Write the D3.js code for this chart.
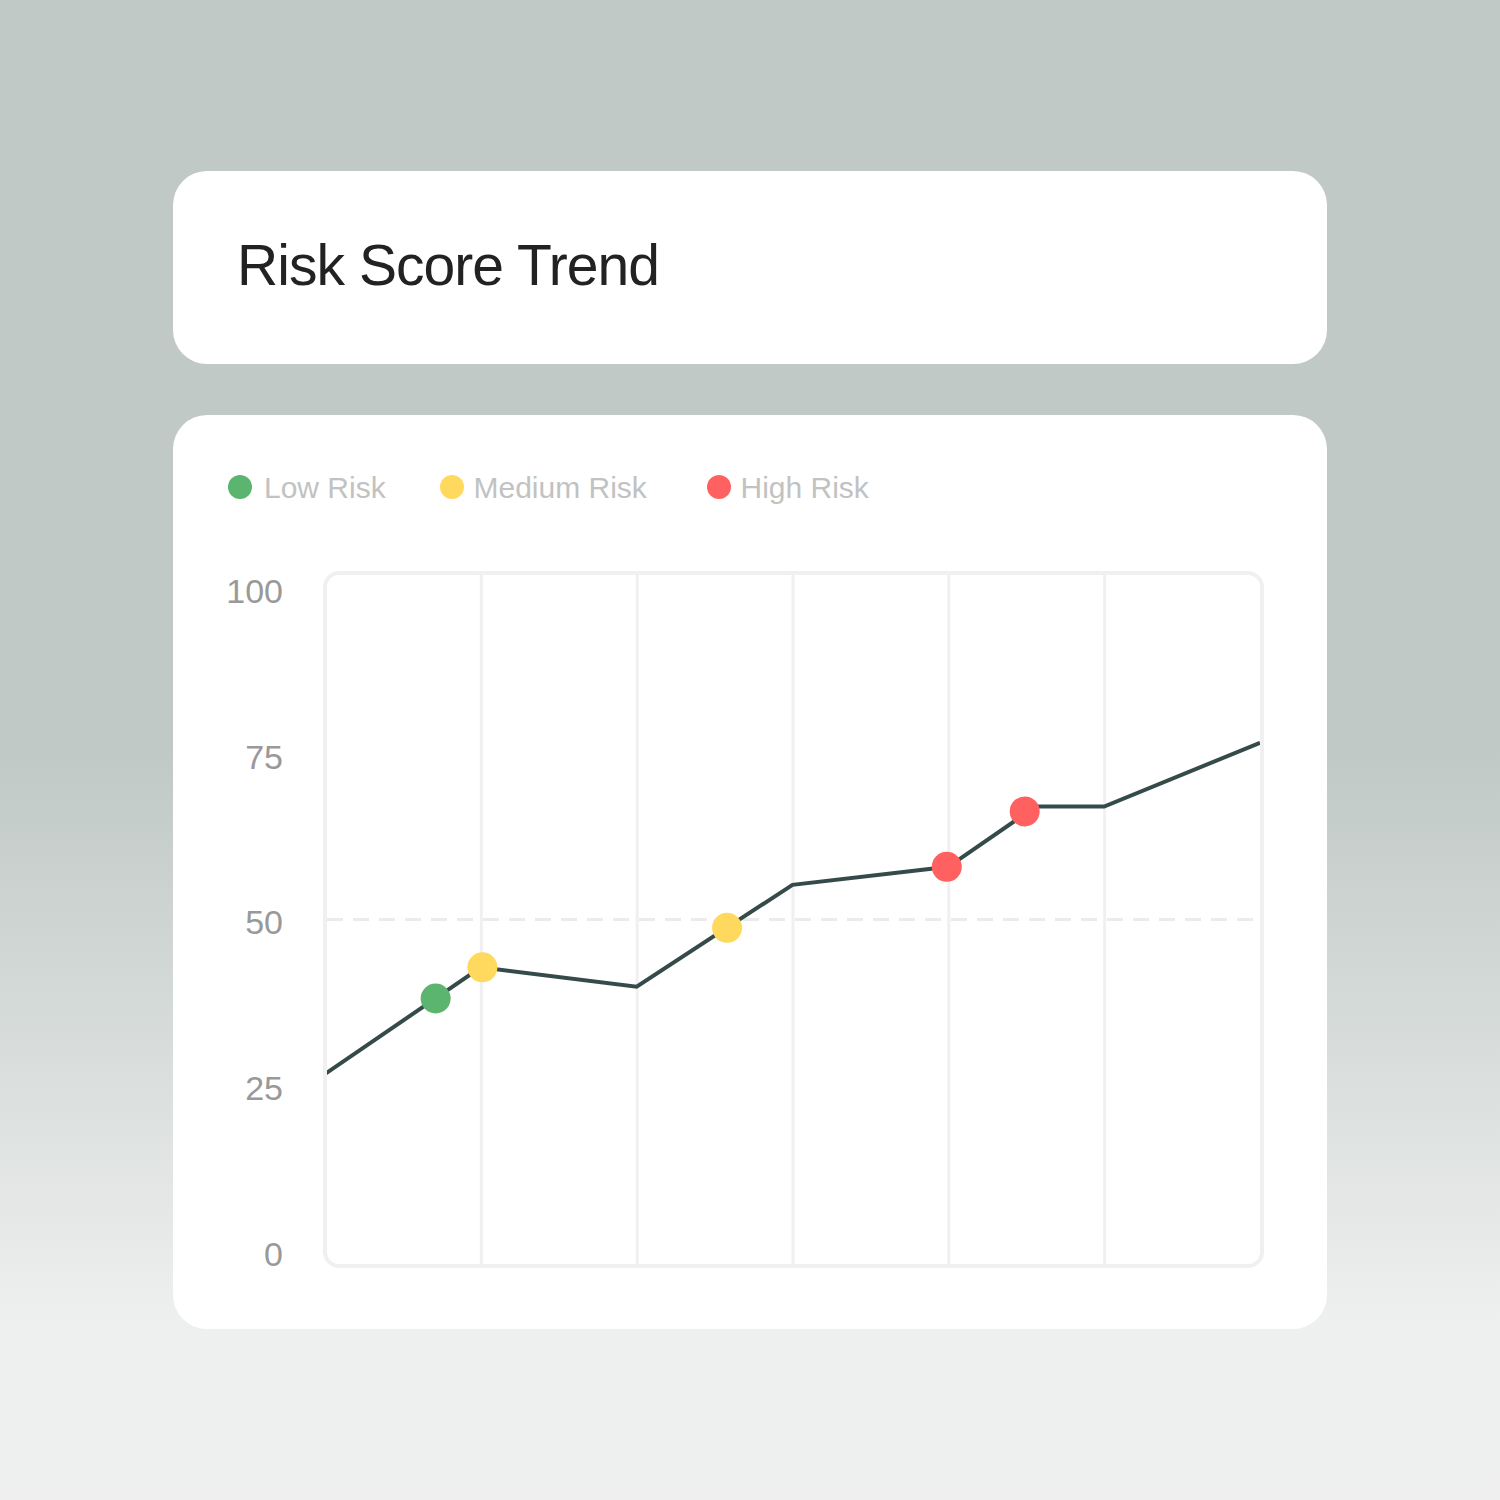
<!DOCTYPE html>
<html>
<head>
<meta charset="utf-8">
<script src="https://cdn.jsdelivr.net/npm/d3@7"></script>
<style>
  html, body { margin: 0; padding: 0; }
  body { width: 1500px; height: 1500px; overflow: hidden; }
  svg { display: block; }
</style>
</head>
<body>
<svg id="chart" width="1500" height="1500"></svg>
<script>
// ---- data ----
const titleText = "Risk Score Trend";
const lineX = [0, 1, 2, 3, 4, 4.56, 5, 6];
const lineY = [27.7, 43.1, 40.3, 55.0, 57.6, 66.3, 66.3, 75.5];
const markerX = [0.71, 1.01, 2.58, 3.99, 4.49];
const markerY = [38.6, 43.1, 48.8, 57.6, 65.6];
const markerLevel = ["low", "medium", "medium", "high", "high"];
const legendKeys = ["low", "medium", "high"];
const legendLabels = ["Low Risk", "Medium Risk", "High Risk"];
const yTicks = [0, 25, 50, 75, 100];
const xGridTicks = [1, 2, 3, 4, 5];
const threshold = [50];

(function () {
const colors = { low: "#5bb56e", medium: "#ffd95e", high: "#ff6161" };

const svg = d3.select("#chart");
const defs = svg.append("defs");

// background gradient
const grad = defs.append("linearGradient").attr("id", "bg").attr("x1", 0).attr("y1", 0).attr("x2", 0).attr("y2", 1);
grad.append("stop").attr("offset", "0%").attr("stop-color", "#c0c9c6");
grad.append("stop").attr("offset", "50%").attr("stop-color", "#c0c9c6");
grad.append("stop").attr("offset", "88%").attr("stop-color", "#eeefef");
grad.append("stop").attr("offset", "100%").attr("stop-color", "#efefef");
svg.append("rect").attr("width", 1500).attr("height", 1500).attr("fill", "url(#bg)");

// cards
svg.append("rect").attr("x", 173).attr("y", 171).attr("width", 1154).attr("height", 193)
  .attr("rx", 34).attr("fill", "#fff");
svg.append("rect").attr("x", 173).attr("y", 415).attr("width", 1154).attr("height", 914)
  .attr("rx", 34).attr("fill", "#fff");

// title
svg.append("text").attr("x", 237).attr("y", 285)
  .attr("font-family", "'Liberation Sans', Arial, sans-serif")
  .attr("font-size", 57).attr("letter-spacing", -0.95)
  .attr("fill", "#222").text(titleText);

// legend
const legendX = [240, 452, 719];
const lg = svg.append("g");
legendKeys.forEach((k, i) => {
  lg.append("circle").attr("cx", legendX[i]).attr("cy", 487).attr("r", 12).attr("fill", colors[k]);
  lg.append("text").attr("x", legendX[i] + (i === 0 ? 24 : 21.5)).attr("y", 498)
    .attr("font-family", "'Liberation Sans', Arial, sans-serif")
    .attr("font-size", 30).attr("fill", "#c2c2c2").text(legendLabels[i]);
});

// plot geometry
const pLeft = 325, pRight = 1262, pTop = 573, pBottom = 1266;
const x = d3.scaleLinear().domain([0, 6]).range([pLeft, 1260]);
const y = d3.scaleLinear().domain([0, 100]).range([pBottom, pTop]);

// clip
defs.append("clipPath").attr("id", "plotclip").append("rect")
  .attr("x", pLeft + 2).attr("y", pTop + 2).attr("width", pRight - pLeft - 4).attr("height", pBottom - pTop - 4);

// vertical grid via axis
const gridG = svg.append("g").attr("transform", `translate(0,${pBottom})`)
  .call(d3.axisBottom(x).tickValues(xGridTicks).tickSize(-(pBottom - pTop)).tickFormat(""));
gridG.select(".domain").remove();
gridG.selectAll(".tick line").attr("stroke", "#f0f0f0").attr("stroke-width", 3);

// threshold dashed line
svg.append("g").selectAll("line").data(threshold).join("line")
  .attr("x1", pLeft + 2).attr("x2", pRight - 2)
  .attr("y1", d => y(d)).attr("y2", d => y(d))
  .attr("stroke", "#ebebeb").attr("stroke-width", 3).attr("stroke-dasharray", "16,10");

// frame
svg.append("rect").attr("x", pLeft).attr("y", pTop).attr("width", pRight - pLeft).attr("height", pBottom - pTop)
  .attr("rx", 14).attr("fill", "none").attr("stroke", "#f0f0f0").attr("stroke-width", 4);

// y labels (label column distributed independently)
const yLabel = d3.scaleLinear().domain([0, 100]).range([1253, 590]);
const yAxisG = svg.append("g").attr("transform", "translate(283,0)")
  .call(d3.axisLeft(yLabel).tickValues(yTicks).tickSize(0).tickPadding(0));
yAxisG.select(".domain").remove();
yAxisG.selectAll("text")
  .attr("font-family", "'Liberation Sans', Arial, sans-serif")
  .attr("font-size", 34).attr("fill", "#999").attr("dy", "0.36em");

// line
const pts = lineX.map((d, i) => [d, lineY[i]]);
svg.append("path").datum(pts)
  .attr("clip-path", "url(#plotclip)")
  .attr("d", d3.line().x(d => x(d[0])).y(d => y(d[1])))
  .attr("fill", "none").attr("stroke", "#344b4a").attr("stroke-width", 4)
  .attr("stroke-linejoin", "miter");

// markers
const mk = markerX.map((d, i) => ({ x: d, y: markerY[i], level: markerLevel[i] }));
svg.append("g").selectAll("circle").data(mk).join("circle")
  .attr("cx", d => x(d.x)).attr("cy", d => y(d.y)).attr("r", 15)
  .attr("fill", d => colors[d.level]);
})();
</script>
</body>
</html>
